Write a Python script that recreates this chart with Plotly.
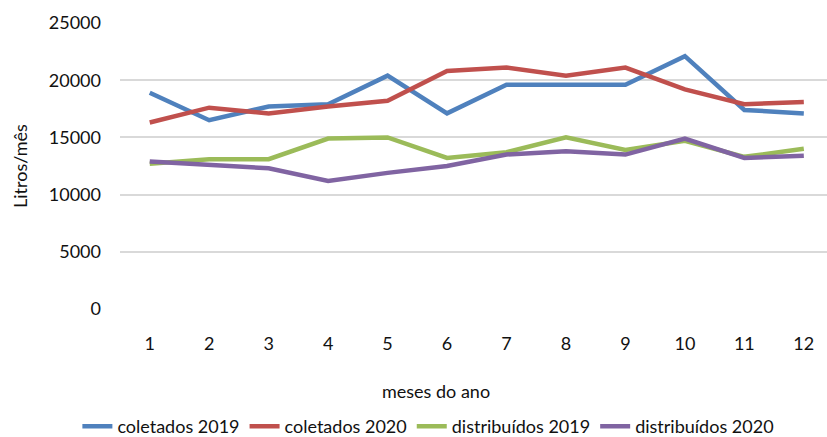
import plotly.graph_objects as go

months = list(range(1, 13))
coletados_2019 = [18900, 16500, 17700, 17900, 20400, 17100, 19600, 19600, 19600, 22100, 17400, 17100]
coletados_2020 = [16300, 17600, 17100, 17700, 18200, 20800, 21100, 20400, 21100, 19200, 17900, 18100]
distribuidos_2019 = [12700, 13100, 13100, 14900, 15000, 13200, 13700, 15000, 13900, 14700, 13300, 14000]
distribuidos_2020 = [12900, 12600, 12300, 11200, 11900, 12500, 13500, 13800, 13500, 14900, 13200, 13400]
series_names = ["coletados 2019", "coletados 2020", "distribuídos 2019", "distribuídos 2020"]
colors = ["#4F81BD", "#C0504D", "#9BBB59", "#8064A2"]
y_ticks = [0, 5000, 10000, 15000, 20000, 25000]
y_ticktext = [str(v) for v in y_ticks]

FONT = "Lato, Open Sans, sans-serif"
TXT = "#111111"

fig = go.Figure()
for name, vals, c in zip(series_names, [coletados_2019, coletados_2020, distribuidos_2019, distribuidos_2020], colors):
    fig.add_trace(go.Scatter(x=months, y=vals, mode="lines", name=name,
                             line=dict(color=c, width=4.5)))

fig.update_layout(
    width=827, height=437,
    margin=dict(l=120, r=0, t=23, b=128),
    paper_bgcolor="white", plot_bgcolor="white",
    font=dict(family=FONT, size=18, color=TXT),
    showlegend=True,
    legend=dict(orientation="h", xref="container", yref="container",
                x=0.518, xanchor="center", y=0.024, yanchor="middle",
                font=dict(size=18), tracegroupgap=0),
    xaxis=dict(range=[0.5, 12.39], tickvals=months, showgrid=False, zeroline=False,
               showline=False, ticks="", ticklabelstandoff=22, automargin=False),
    yaxis=dict(range=[0, 25000], tickvals=y_ticks, ticktext=y_ticktext, showgrid=True,
               gridcolor="#D9D9D9", gridwidth=1.5, zeroline=False, showline=False, ticks="",
               ticklabelstandoff=18, automargin=False),
    annotations=[
        dict(text="Litros/mês", xref="paper", yref="paper", x=-0.1414, y=0.5,
             xanchor="center", yanchor="middle", textangle=-90, showarrow=False,
             font=dict(size=18, color=TXT)),
        dict(text="meses do ano", xref="paper", yref="paper", x=0.447, y=-0.287,
             xanchor="center", yanchor="middle", showarrow=False,
             font=dict(size=18, color=TXT)),
    ],
)
fig.write_html("out.html", config={"displayModeBar": False, "responsive": False},
               post_script="document.body.style.margin='0';document.body.style.overflow='hidden';")
